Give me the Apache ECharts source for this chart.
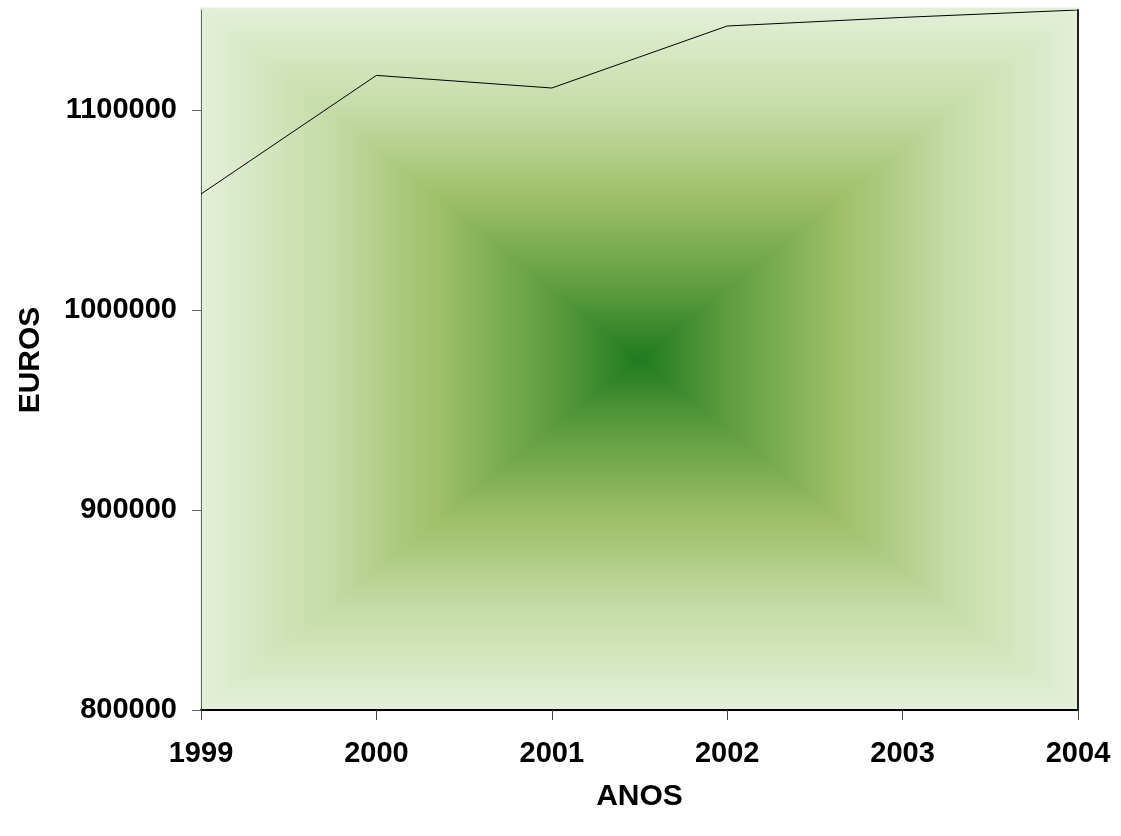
<!DOCTYPE html>
<html>
<head>
<meta charset="utf-8">
<script src="https://cdn.jsdelivr.net/npm/echarts@6/dist/echarts.min.js"></script>
<style>html,body{margin:0;padding:0;background:#fff}#c{width:1121px;height:836px}</style>
</head>
<body>
<div id="c"></div>
<script>
const categories = ['1999','2000','2001','2002','2003','2004'];
const euros = [1058000, 1117300, 1111000, 1142000, 1146300, 1150000];
const yTicks = [800000, 900000, 1000000, 1100000];

const chart = echarts.init(document.getElementById('c'));
const G = {left: 201, top: 10, right: 43, bottom: 126};
const W = 1121, H = 836;
const x0 = G.left, x1 = W - G.right, y0 = G.top - 2, y1 = H - G.bottom;
const cx = (x0 + x1) / 2, cy = (y0 + y1) / 2;
const stops = () => [
  {offset: 0, color: '#e4f0d9'},
  {offset: 0.3, color: '#c4dba5'},
  {offset: 0.55, color: '#9cbf66'},
  {offset: 0.8, color: '#5e9c40'},
  {offset: 1, color: '#1f7a1f'}
];
function grad(x, y, x2, y2) {
  return new echarts.graphic.LinearGradient(x, y, x2, y2, stops());
}
const bg = [
  {pts: [[x0, y0], [x1, y0], [cx, cy]], d: [0, 0, 0, 1]},
  {pts: [[x0, y1], [x1, y1], [cx, cy]], d: [0, 1, 0, 0]},
  {pts: [[x0, y0], [x0, y1], [cx, cy]], d: [0, 0, 1, 0]},
  {pts: [[x1, y0], [x1, y1], [cx, cy]], d: [1, 0, 0, 0]}
].map(p => ({type: 'polygon', z: -10, silent: true, shape: {points: p.pts},
  style: {fill: grad(...p.d), stroke: grad(...p.d), lineWidth: 1.2}}));

const font = {fontFamily: 'Liberation Sans, Arial, sans-serif', fontWeight: 'bold', color: '#000'};
chart.setOption({
  animation: false,
  backgroundColor: '#fff',
  graphic: {elements: bg},
  grid: {left: G.left, right: G.right, top: G.top, bottom: G.bottom, containLabel: false, outerBoundsMode: 'none'},
  xAxis: {
    type: 'category', data: categories, boundaryGap: false,
    name: 'ANOS', nameLocation: 'middle', nameGap: 72,
    nameTextStyle: Object.assign({fontSize: 30}, font),
    axisLine: {lineStyle: {color: '#000', width: 2}},
    axisTick: {show: true, length: 10, lineStyle: {color: '#444', width: 1}},
    axisLabel: Object.assign({fontSize: 29, margin: 29}, font),
    splitLine: {show: false}
  },
  yAxis: [{
    type: 'value', min: 800000, max: 1150000, interval: 100000,
    name: 'EUROS', nameLocation: 'middle', nameGap: 155, nameRotate: 90,
    nameTextStyle: Object.assign({fontSize: 30}, font),
    axisLine: {show: true, lineStyle: {color: '#666', width: 1}},
    axisTick: {show: true, length: 9, customValues: yTicks, lineStyle: {color: '#666'}},
    axisLabel: Object.assign({fontSize: 29, margin: 24, customValues: yTicks, formatter: v => String(v)}, font),
    splitLine: {show: false}
  }, {
    type: 'value', min: 800000, max: 1150000, position: 'right',
    axisLine: {show: true, lineStyle: {color: '#222', width: 2}},
    axisTick: {show: false}, axisLabel: {show: false}, splitLine: {show: false}
  }],
  series: [{
    type: 'line', data: euros, symbol: 'none', z: 5,
    lineStyle: {color: '#000', width: 1}
  }]
});
</script>
</body>
</html>
